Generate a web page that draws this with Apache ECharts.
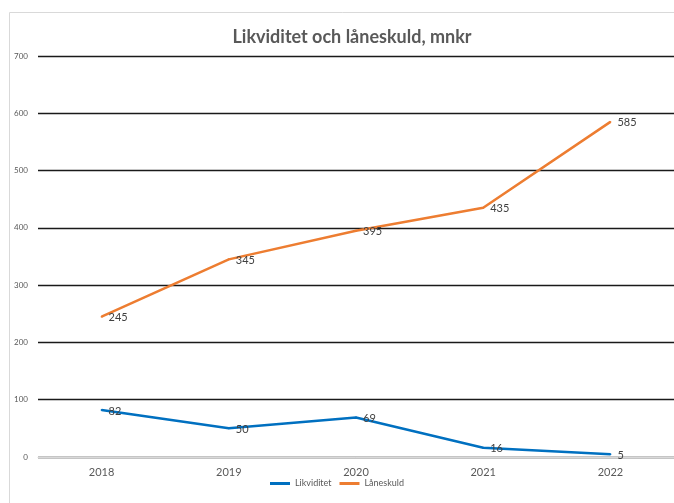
<!DOCTYPE html>
<html>
<head>
<meta charset="utf-8">
<script src="https://cdn.jsdelivr.net/npm/echarts@6/dist/echarts.min.js"></script>
<style>html,body{margin:0;padding:0;background:#fff}#c{width:674px;height:503px}</style>
</head>
<body>
<div id="c"></div>
<script>
var categories = ['2018', '2019', '2020', '2021', '2022'];
var likviditet = [82, 50, 69, 16, 5];
var laneskuld = [245, 345, 395, 435, 585];
var yTicks = [0, 100, 200, 300, 400, 500, 600, 700];

var chart = echarts.init(document.getElementById('c'), null, {renderer: 'canvas'});
var font = 'Lato, "Open Sans", sans-serif';
function lineSeries(name, data, color) {
  return {name: name, type: 'line', data: data, symbol: 'circle', symbolSize: 2, showSymbol: true,
    color: color, itemStyle: {color: color},
    lineStyle: {width: 2.5, color: color},
    label: {show: true, position: 'right', distance: 6, offset: [0, 1], fontFamily: font, fontSize: 11, color: '#404040'}};
}
chart.setOption({
  animation: false,
  graphic: [{type: 'rect', shape: {x: 9.5, y: 12.5, width: 700, height: 520}, style: {fill: 'none', stroke: '#d9d9d9', lineWidth: 1}, z: -1}],
  title: {text: 'Likviditet och låneskuld, mnkr', left: 347, textAlign: 'center', top: 23,
    textStyle: {fontFamily: font, fontSize: 18, fontWeight: 'bold', color: '#595959'}},
  grid: {left: 38, right: 0, top: 56, bottom: 46},
  legend: {bottom: 10, left: 'center', itemWidth: 20, itemHeight: 3, itemGap: 8, icon: 'rect',
    textStyle: {fontFamily: font, fontSize: 9, color: '#595959'},
    data: ['Likviditet', 'Låneskuld']},
  xAxis: {type: 'category', data: categories, boundaryGap: true,
    axisLine: {show: true, lineStyle: {color: '#d9d9d9', width: 1}},
    axisTick: {show: false},
    axisLabel: {fontFamily: font, fontSize: 11, color: '#595959', margin: 10}},
  yAxis: {type: 'value', min: 0, max: 700, interval: 100,
    axisLine: {show: false}, axisTick: {show: false},
    axisLabel: {fontFamily: font, fontSize: 8, color: '#595959', margin: 10,
      formatter: function (v) { return yTicks.indexOf(v) >= 0 ? String(v) : ''; }},
    splitLine: {lineStyle: {color: '#1a1a1a', width: 1.3}}},
  series: [
    lineSeries('Likviditet', likviditet, '#0070C0'),
    lineSeries('Låneskuld', laneskuld, '#ED7D31')
  ]
});
</script>
</body>
</html>
